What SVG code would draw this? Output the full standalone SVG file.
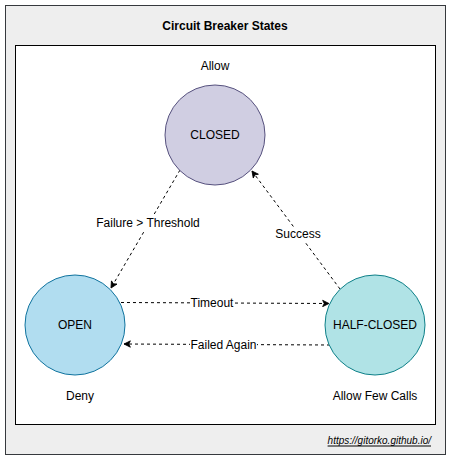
<svg xmlns="http://www.w3.org/2000/svg" width="451" height="461" viewBox="0 0 451 461">
<defs>
<marker id="arr" viewBox="0 0 10 10" refX="9" refY="5" markerWidth="8" markerHeight="8" markerUnits="userSpaceOnUse" orient="auto">
<path d="M1,1 L9,5 L1,9 L3,5 Z" fill="#000" stroke="#000" stroke-width="1"/>
</marker>
</defs>
<style>
text{font-family:"Liberation Sans",Arial,Helvetica,sans-serif;font-size:12px;fill:#000;text-anchor:middle;dominant-baseline:central}
.edge{fill:none;stroke:#000;stroke-width:1;stroke-dasharray:3 3;marker-end:url(#arr)}
.lbl{fill:#fff}
</style>
<g id="frame">
<rect x="5.5" y="5.5" width="440" height="449" fill="#eeeeee" stroke="#36393d" stroke-width="1"/>
<text x="225" y="26" font-weight="bold">Circuit Breaker States</text>
<rect x="15.5" y="45.5" width="420" height="379" fill="#ffffff" stroke="#000" stroke-width="1"/>
<text x="431" y="440" style="text-anchor:end;font-style:italic;font-size:10px;text-decoration:underline">https://gitorko.github.io/</text>
</g>
<g id="connectors">
<path class="edge" d="M180,170 L111,288"/>
<rect class="lbl" x="96" y="216" width="104" height="14"/>
<text x="148" y="223">Failure &gt; Threshold</text>
<path class="edge" d="M340,289 L252,171"/>
<rect class="lbl" x="275" y="227" width="48" height="14"/>
<text x="298" y="234">Success</text>
<path class="edge" d="M121,302.5 L329,303.5"/>
<rect class="lbl" x="190" y="296" width="44" height="14"/>
<text x="212" y="302.5">Timeout</text>
<path class="edge" d="M330,345 L124,344"/>
<rect class="lbl" x="190" y="338" width="67" height="14"/>
<text x="223.5" y="344.5">Failed Again</text>
</g>
<g id="closed">
<circle cx="215" cy="135" r="50" fill="#d0cee2" stroke="#56517e"/>
<text x="215" y="135">CLOSED</text>
<text x="215" y="66">Allow</text>
</g>
<g id="open">
<circle cx="75" cy="325" r="50" fill="#b1ddf0" stroke="#10739e"/>
<text x="75" y="325">OPEN</text>
<text x="80" y="396">Deny</text>
</g>
<g id="half-closed">
<circle cx="375" cy="325" r="50" fill="#b0e3e6" stroke="#0e8088"/>
<text x="375" y="325">HALF-CLOSED</text>
<text x="375" y="396">Allow Few Calls</text>
</g>
</svg>
